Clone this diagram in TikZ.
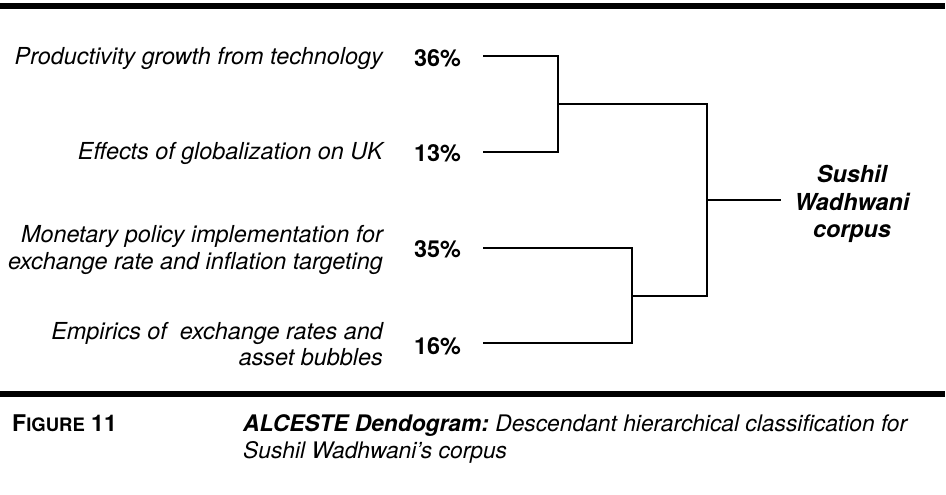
\documentclass[tikz,border=0pt]{standalone}
\usepackage{fontspec}
\setmainfont{TeX Gyre Heros}
\frenchspacing
\begin{document}
\begin{tikzpicture}[x=1pt,y=-1pt,
  lbl/.style={font=\fontsize{23.4}{26.5}\selectfont\itshape, align=right, anchor=east, inner sep=0pt},
  pct/.style={font=\fontsize{23.4}{26.5}\selectfont\bfseries, anchor=west, inner sep=0pt},
  tree/.style={line width=2pt, line join=miter, line cap=rect},
  bar/.style={line width=6pt}]
\useasboundingbox (0,0) rectangle (946,495);
% bars
\coordinate (t0) at (0,6); \coordinate (t1) at (945,6);
\coordinate (b0) at (0,394); \coordinate (b1) at (945,394);
\draw[bar] (t0) -- (t1);
\draw[bar] (b0) -- (b1);
% labels
\node[lbl] (n1) at (383,58) {Productivity growth from technology};
\node[lbl] (n2) at (383,153) {Effects of globalization on UK};
\node[lbl] (n3) at (383,250) {Monetary policy implementation for\\exchange rate and inflation targeting};
\node[lbl] (n4) at (383,344) {Empirics of\ \ exchange rates and\\asset bubbles};
\node[pct] (p1) at (414,58) {36\%};
\node[pct] (p2) at (414,153) {13\%};
\node[pct] (p3) at (414,249) {35\%};
\node[pct] (p4) at (414,346) {16\%};
\node[font=\fontsize{23.4}{27.5}\selectfont\bfseries\itshape, align=center, inner sep=0pt] (root) at (852,204) {Sushil\\Wadhwani\\corpus};
% tree
\coordinate (a1) at (484,56);
\coordinate (a2) at (484,152);
\coordinate (a3) at (484,248);
\coordinate (a4) at (484,343);
\coordinate (m12) at (558,104);
\coordinate (m34) at (632,296);
\coordinate (mr) at (707,200);
\coordinate (r) at (780,200);
\draw[tree] (a1) -| (m12) |- (a2);
\draw[tree] (a3) -| (m34) |- (a4);
\draw[tree] (m12) -| (mr) |- (m34);
\draw[tree] (mr) -- (r);
% caption
\node[anchor=base west, inner sep=0pt, font=\bfseries] (fig) at (12,431) {{\fontsize{23}{27}\selectfont F}{\fontsize{18.5}{27}\selectfont IGURE}{\fontsize{23}{27}\selectfont\ 11}};
\node[anchor=north west, inner sep=0pt, align=left, font=\fontsize{22.8}{27}\selectfont\itshape] (cap) at (243,414) {\textbf{ALCESTE Dendogram:} Descendant hierarchical classification for\\Sushil Wadhwani’s corpus};
\end{tikzpicture}
\end{document}
